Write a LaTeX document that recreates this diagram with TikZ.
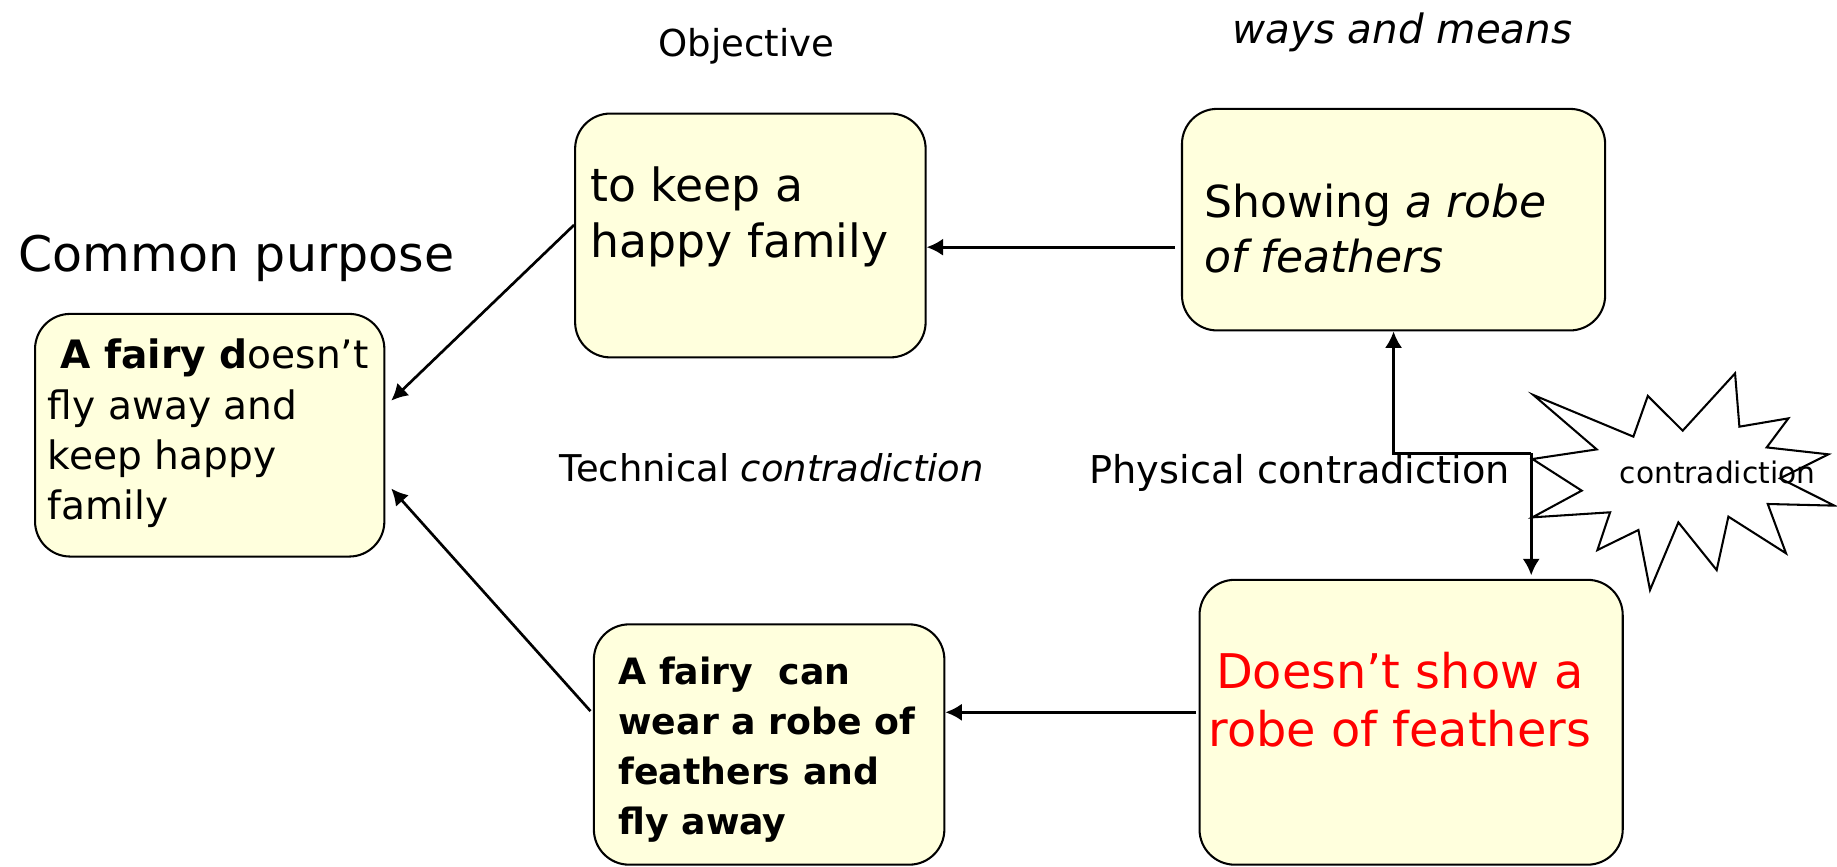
\documentclass[tikz,border=0pt]{standalone}
\usepackage{fontspec}
\setmainfont{DejaVu Sans}
\usetikzlibrary{arrows.meta}
\definecolor{boxfill}{RGB}{255,255,221}

\begin{document}
\begin{tikzpicture}[x=0.01cm, y=-0.01cm, >={Latex[length=4pt,width=4.2pt]}, line width=0.5pt,
    card/.style={draw, rounded corners=0.3cm, fill=boxfill, inner sep=0pt},
    cardtext/.style={inner sep=0pt, anchor=north west, align=left},
    conn/.style={->, line width=0.65pt}]
  \useasboundingbox (0,0) rectangle (1568,740);

  % Boxes
  \node[card, minimum width=2.98cm, minimum height=2.07cm] (purpose) at (179,371.5) {};
  \node[card, minimum width=2.99cm, minimum height=2.08cm] (objective) at (640.5,201) {};
  \node[card, minimum width=3.61cm, minimum height=1.89cm] (means) at (1189.5,187.5) {};
  \node[card, minimum width=3.61cm, minimum height=2.43cm] (noshow) at (1204.5,616.5) {};
  \node[card, minimum width=2.99cm, minimum height=2.05cm] (flyaway) at (656.5,635.5) {};

  % Texts in the boxes
  \node[cardtext, font={\fontsize{9.5}{12.2}\selectfont}] (purposetext)
    at ([shift={(11,21.6)}]purpose.north west)
    {\ \textbf{A fairy d}oesn’t\\ fly away and\\ keep happy\\ family};
  \node[cardtext, font={\fontsize{11.1}{13.7}\selectfont}] (objectivetext)
    at ([shift={(13,45)}]objective.north west) {to keep a\\ happy family};
  \node[cardtext, font={\fontsize{10.7}{13.4}\selectfont}] (meanstext)
    at ([shift={(19,64)}]means.north west) {Showing \textit{a robe}\\ \textit{of feathers}};
  \node[inner sep=0pt, anchor=north, align=center, text=red,
    font={\fontsize{11.6}{14}\selectfont}] (noshowtext)
    at ([shift={(-9.5,62)}]noshow.north) {Doesn’t show a\\ robe of feathers};
  \node[cardtext, font={\bfseries\fontsize{8.8}{12.2}\selectfont}] (flyawaytext)
    at ([shift={(21,27.5)}]flyaway.north west)
    {A fairy \ can\\ wear a robe of\\ feathers and\\ fly away};

  % Headings
  \node[anchor=base, inner sep=0pt, font={\fontsize{9}{11}\selectfont}] (objlabel) at (637,48.5) {Objective};
  \node[anchor=base, inner sep=0pt, font={\itshape\fontsize{9.8}{11}\selectfont}] (meanslabel) at (1197,37) {ways and means};
  \node[anchor=base west, inner sep=0pt, font={\fontsize{11.9}{13}\selectfont}] (purposelabel) at (15,232) {Common purpose};
  \node[anchor=base west, inner sep=0pt, font={\fontsize{8.95}{10}\selectfont}] (techlabel) at (477,411) {Technical \textit{contradiction}};
  \node[anchor=base west, inner sep=0pt, font={\fontsize{9.3}{11}\selectfont}] (physlabel) at (929,412.5) {Physical contradiction};

  % Contradiction burst
  \draw (1308.9,337.2) -- (1394.2,372.7) -- (1406.5,338) -- (1436.3,367.6) -- (1481,318.7)
    -- (1484.7,364.2) -- (1526.5,357.1) -- (1508,381.9) -- (1560.7,387.8) -- (1519.4,408.3)
    -- (1565.8,431.6) -- (1508.9,430.2) -- (1524.5,472.3) -- (1475.3,441) -- (1465.3,486.6)
    -- (1432.6,445.9) -- (1408.4,503.6) -- (1398.5,452.4) -- (1363.5,469.5) -- (1374.3,437.3)
    -- (1308,441.6) -- (1350.1,418.8) -- (1308,391.8) -- (1362.9,383.6) -- cycle;
  \node[anchor=base, inner sep=0pt, font={\fontsize{7.2}{8}\selectfont}] (burst) at (1466,412.6) {contradiction};

  % Connectors
  \draw[conn] ([shift={(0,-9)}]objective.west) -- ([shift={(5,-29.5)}]purpose.east);
  \draw[conn] ([shift={(-5,23.5)}]means.west) -- ([shift={(0,10)}]objective.east);
  \draw[conn] ([shift={(-2,-8.5)}]noshow.west) -- ([shift={(0,-27.5)}]flyaway.east);
  \draw[conn] ([shift={(-2,-28.5)}]flyaway.west) -- ([shift={(5,45.5)}]purpose.east);
  \coordinate (split) at (1307,387);
  \draw[conn] (split) -| (means.south);
  \draw[conn] (split) -- ([yshift=0.03cm]split |- noshow.north);
\end{tikzpicture}
\end{document}
